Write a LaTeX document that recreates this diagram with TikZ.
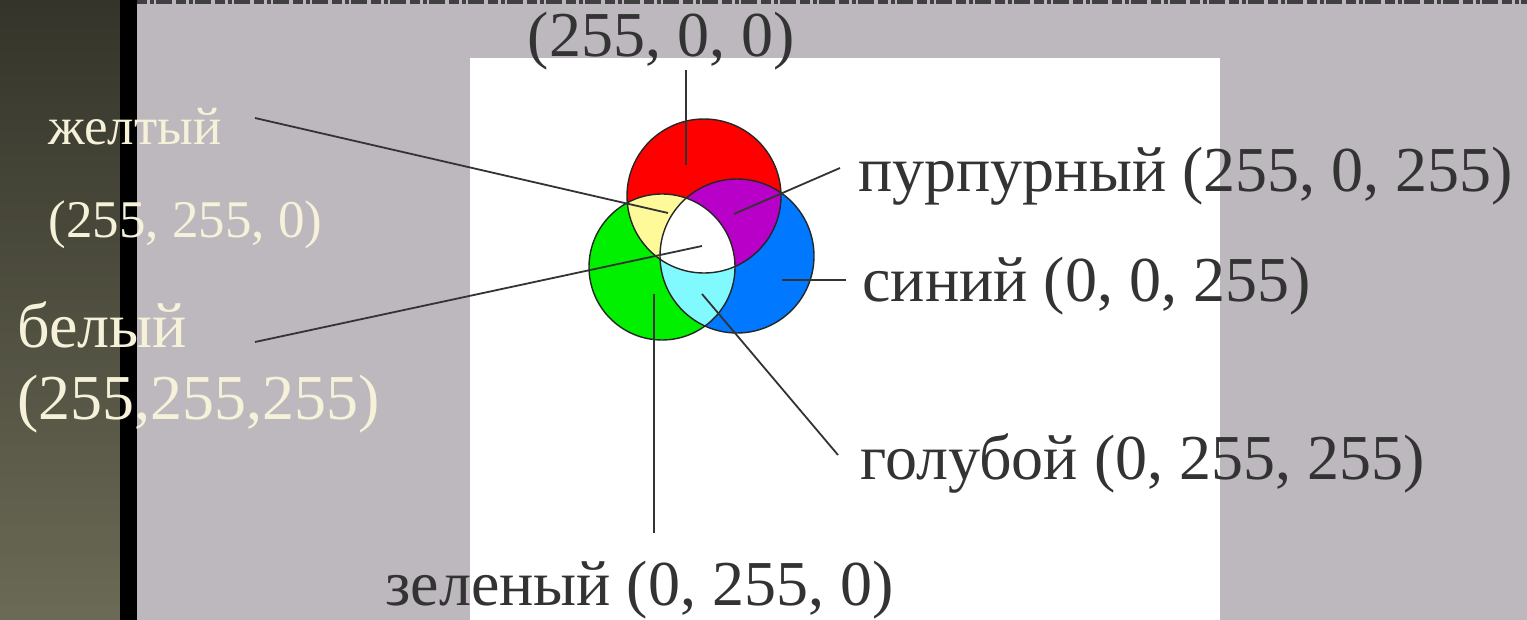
\documentclass[tikz,border=0pt]{standalone}
\usepackage{fontspec}
\setmainfont{Liberation Serif}
\newfontfamily\labfont{Liberation Serif}
\definecolor{bggray}{HTML}{BCB8BE}
\definecolor{stripTop}{HTML}{34342A}
\definecolor{stripBot}{HTML}{6B6A56}
\definecolor{txtdark}{HTML}{333333}
\definecolor{txtcream}{HTML}{F6F2DA}
\definecolor{cred}{HTML}{FF0000}
\definecolor{cgreen}{HTML}{00F000}
\definecolor{cblue}{HTML}{0078FF}
\definecolor{cyellow}{HTML}{FFFA99}
\definecolor{cpurple}{HTML}{B800C8}
\definecolor{ccyan}{HTML}{80FAFF}
\tikzset{
  darklabel/.style={anchor=base west, inner sep=0pt, text=txtdark, font=\labfont\fontsize{32pt}{36pt}\selectfont},
  lightlabel/.style={anchor=base west, inner sep=0pt, text=txtcream, font=\labfont\fontsize{32pt}{36pt}\selectfont},
  smalllight/.style={anchor=base west, inner sep=0pt, text=txtcream, font=\labfont\fontsize{26.5pt}{30pt}\selectfont},
  conn/.style={draw=txtdark, line width=0.9pt},
  outl/.style={draw=black!85, line width=0.7pt},
}
\begin{document}
\begin{tikzpicture}[x=0.5pt,y=-0.5pt]
\useasboundingbox (0,0) rectangle (1527,620);
% background
\fill[bggray] (0,0) rectangle (1527,620);
\shade[top color=stripTop, bottom color=stripBot] (0,0) rectangle (120,620);
\fill[black] (120,0) rectangle (137,620);
\draw[black!75, line width=2pt, dash pattern=on 5pt off 1.5pt on 2pt off 1pt on 8pt off 2pt] (137,2) -- (1527,2);
\fill[white] (470,58) rectangle (1220,620);
% circles
\coordinate (R) at (704,196);
\coordinate (G) at (662,267);
\coordinate (B) at (737,256);
\fill[cblue] (B) circle[radius=38.5pt];
\fill[cgreen] (G) circle[radius=36.5pt];
\fill[cred] (R) circle[radius=38.5pt];
\begin{scope}
  \clip (R) circle[radius=38.5pt];
  \fill[cyellow] (G) circle[radius=36.5pt];
  \fill[cpurple] (B) circle[radius=38.5pt];
\end{scope}
\begin{scope}
  \clip (G) circle[radius=36.5pt];
  \fill[ccyan] (B) circle[radius=38.5pt];
\end{scope}
\begin{scope}
  \clip (R) circle[radius=38.5pt];
  \clip (G) circle[radius=36.5pt];
  \fill[white] (B) circle[radius=38.5pt];
\end{scope}
\draw[outl] (R) circle[radius=38.5pt];
\draw[outl] (G) circle[radius=36.5pt];
\draw[outl] (B) circle[radius=38.5pt];
% labels
\node[darklabel, anchor=base] (redlab) at (661,57) {(255, 0, 0)};
\node[darklabel] (purlab) at (858,192) {пурпурный (255, 0, 255)};
\node[darklabel] (blulab) at (862,302) {синий (0, 0, 255)};
\node[darklabel] (cyalab) at (860,480) {голубой (0, 255, 255)};
\node[darklabel] (grelab) at (385,605) {зеленый (0, 255, 0)};
\node[smalllight] (yellab) at (48,145) {желтый};
\node[smalllight] (yelval) at (48,238) {(255, 255, 0)};
\node[lightlabel] (whilab) at (17,348) {белый};
\node[lightlabel] (whival) at (17,420) {(255,255,255)};
% connector end points
\coordinate (rS) at (686,70);   \coordinate (rE) at (686,165);
\coordinate (yS) at (255,118);  \coordinate (yE) at (668,213);
\coordinate (wS) at (255,342);  \coordinate (wE) at (702,246);
\coordinate (pS) at (840,168);  \coordinate (pE) at (734,214);
\coordinate (bS) at (846,280);  \coordinate (bE) at (782,280);
\coordinate (cS) at (838,455);  \coordinate (cE) at (702,294);
\coordinate (gS) at (654,533);  \coordinate (gE) at (654,294);
\draw[conn] (rS) -- (rE);
\draw[conn] (yS) -- (yE);
\draw[conn] (wS) -- (wE);
\draw[conn] (pS) -- (pE);
\draw[conn] (bS) -- (bE);
\draw[conn] (cS) -- (cE);
\draw[conn] (gS) -- (gE);
\end{tikzpicture}
\end{document}
